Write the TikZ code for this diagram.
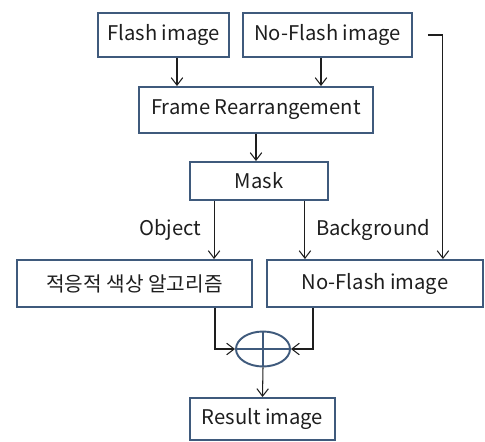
\documentclass[tikz,border=0pt]{standalone}
\usepackage{fontspec}
\setmainfont{Noto Sans CJK KR}
\usetikzlibrary{arrows.meta,calc,positioning,shapes.geometric}
\definecolor{ink}{HTML}{1E1E1E}
\definecolor{boxblue}{HTML}{3F5A7C}
\definecolor{paper}{HTML}{FFFFFF}
\tikzset{
  flowarr/.style={-{Straight Barb[length=1.5mm,width=2.3mm]},line width=0.6pt,color=ink},
  stagebox/.style={draw=boxblue,fill=paper,line width=1.1pt,inner sep=0pt,align=center,
    font=\fontsize{11.5}{13}\selectfont,text=ink},
  sumnode/.style={ellipse,draw=boxblue,fill=paper,line width=1.1pt,inner sep=0pt,
    minimum width=1.08cm,minimum height=0.70cm},
  edgelabel/.style={inner sep=0pt,font=\fontsize{11.5}{13}\selectfont,text=ink}
}
\begin{document}
\begin{tikzpicture}[x=0.02cm,y=-0.02cm]
  \useasboundingbox (0,0) rectangle (485,441);
  % inputs
  \node[stagebox,minimum width=2.62cm,minimum height=0.88cm] (flash) at (163.5,35) {Flash image};
  \node[stagebox,minimum width=3.38cm,minimum height=0.88cm] (noflash) at (327.5,35) {No-Flash image};
  \node[stagebox,minimum width=4.68cm,minimum height=0.92cm] (frame) at (256,110) {Frame Rearrangement};
  \node[stagebox,minimum width=2.76cm,minimum height=0.76cm] (mask) at (259,181) {Mask};
  % second row
  \node[stagebox,minimum width=4.70cm,minimum height=0.94cm] (adapt) at (134.5,283.5) {적응적 색상 알고리즘};
  \node[stagebox,minimum width=4.32cm,minimum height=0.94cm] (noflashb) at (375,283.5) {No-Flash image};
  \node[sumnode] (plus) at (263,349) {};
  \draw[boxblue,line width=1.1pt] (plus.west) -- (plus.east) (plus.north) -- (plus.south);
  \node[stagebox,minimum width=2.90cm,minimum height=0.84cm] (result) at (262.5,419) {Result image};
  % helper points
  \coordinate (fa) at ($(flash.south)+(13.5,0)$);
  \coordinate (na) at ($(noflash.south)+(-6.5,0)$);
  \coordinate (tap) at ($(noflash.east)+(15,0)$);
  \coordinate (drop) at ($(noflash.east)+(30,0)$);
  \coordinate (obj) at ($(mask.south west)+(25,0)$);
  \coordinate (bgd) at ($(mask.south east)+(-24,0)$);
  \coordinate (ao) at ($(adapt.south)+(80.5,0)$);
  \coordinate (bo) at ($(noflashb.south)+(-62,0)$);
  % connectors
  \draw[flowarr] (fa) -- (fa |- frame.north);
  \draw[flowarr] (na) -- (na |- frame.north);
  \draw[flowarr] (tap) -| (drop |- noflashb.north);
  \draw[flowarr] (frame.south) -- (frame.south |- mask.north);
  \draw[flowarr] (obj) -- node[edgelabel,left=7pt] {Object} (obj |- adapt.north);
  \draw[flowarr] (bgd) -- node[edgelabel,right=6pt] {Background} (bgd |- noflashb.north);
  \draw[flowarr] (ao) |- (plus.west);
  \draw[flowarr] (bo) |- (plus.east);
  \draw[flowarr] (plus.south) -- (result.north);
\end{tikzpicture}
\end{document}
